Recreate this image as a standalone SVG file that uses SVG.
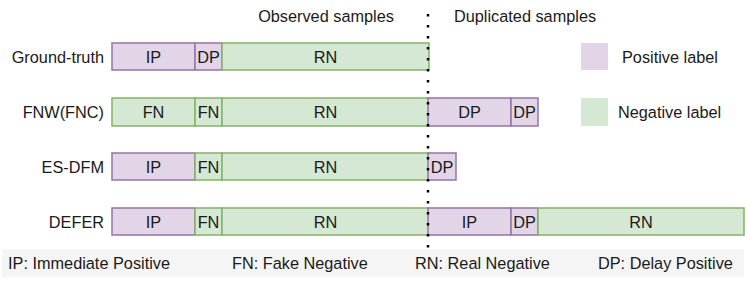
<svg xmlns="http://www.w3.org/2000/svg" width="747" height="281" viewBox="0 0 747 281">
<style>
text{font-family:"Liberation Sans",Arial,sans-serif;font-size:16.3px;fill:#1a1a1a}
.p{fill:#e1d5e7;stroke:#9673a6;stroke-width:1.5}
.g{fill:#d5e8d4;stroke:#82b366;stroke-width:1.5}
.c{text-anchor:middle}
.r{text-anchor:end}
</style>
<rect x="0" y="0" width="747" height="281" fill="#ffffff"/>
<rect x="2" y="249" width="742" height="28" fill="#f5f5f5"/>
<text x="326" y="22" class="c">Observed samples</text>
<text x="454" y="22">Duplicated samples</text>
<g id="ground-truth">
<text x="104" y="63" class="r">Ground-truth</text>
<rect x="112" y="43" width="83" height="27" class="p"/><text x="153.5" y="63" class="c">IP</text>
<rect x="195" y="43" width="27" height="27" class="p"/><text x="208.5" y="63" class="c">DP</text>
<rect x="222" y="43" width="207" height="27" class="g"/><text x="325.5" y="63" class="c">RN</text>
</g>
<g id="fnw">
<text x="104" y="118" class="r">FNW(FNC)</text>
<rect x="112" y="98" width="83" height="28" class="g"/><text x="153.5" y="118" class="c">FN</text>
<rect x="195" y="98" width="27" height="28" class="g"/><text x="208.5" y="118" class="c">FN</text>
<rect x="222" y="98" width="207" height="28" class="g"/><text x="325.5" y="118" class="c">RN</text>
<rect x="428" y="98" width="83" height="28" class="p"/><text x="469.5" y="118" class="c">DP</text>
<rect x="511" y="98" width="27" height="28" class="p"/><text x="524.5" y="118" class="c">DP</text>
</g>
<g id="es-dfm">
<text x="104" y="173" class="r">ES-DFM</text>
<rect x="112" y="153" width="83" height="27" class="p"/><text x="153.5" y="173" class="c">IP</text>
<rect x="195" y="153" width="27" height="27" class="g"/><text x="208.5" y="173" class="c">FN</text>
<rect x="222" y="153" width="207" height="27" class="g"/><text x="325.5" y="173" class="c">RN</text>
<rect x="428" y="153" width="28" height="27" class="p"/><text x="442" y="173" class="c">DP</text>
</g>
<g id="defer">
<text x="104" y="228" class="r">DEFER</text>
<rect x="112" y="208" width="83" height="27" class="p"/><text x="153.5" y="228" class="c">IP</text>
<rect x="195" y="208" width="27" height="27" class="g"/><text x="208.5" y="228" class="c">FN</text>
<rect x="222" y="208" width="207" height="27" class="g"/><text x="325.5" y="228" class="c">RN</text>
<rect x="428" y="208" width="83" height="27" class="p"/><text x="469.5" y="228" class="c">IP</text>
<rect x="511" y="208" width="27" height="27" class="p"/><text x="524.5" y="228" class="c">DP</text>
<rect x="538" y="208" width="206" height="27" class="g"/><text x="641" y="228" class="c">RN</text>
</g>
<g id="legend">
<rect x="581" y="43" width="27" height="27" fill="#e1d5e7"/>
<text x="622" y="63">Positive label</text>
<rect x="581" y="98" width="27" height="28" fill="#d5e8d4"/>
<text x="618" y="118">Negative label</text>
</g>
<g id="connectors">
<line x1="428" y1="14" x2="428" y2="248" stroke="#000" stroke-width="2.5" stroke-dasharray="2.5 8.5"/>
</g>
<g id="footer">
<text x="8" y="269">IP: Immediate Positive</text>
<text x="232" y="269">FN: Fake Negative</text>
<text x="415" y="269">RN: Real Negative</text>
<text x="598" y="269">DP: Delay Positive</text>
</g>
</svg>
